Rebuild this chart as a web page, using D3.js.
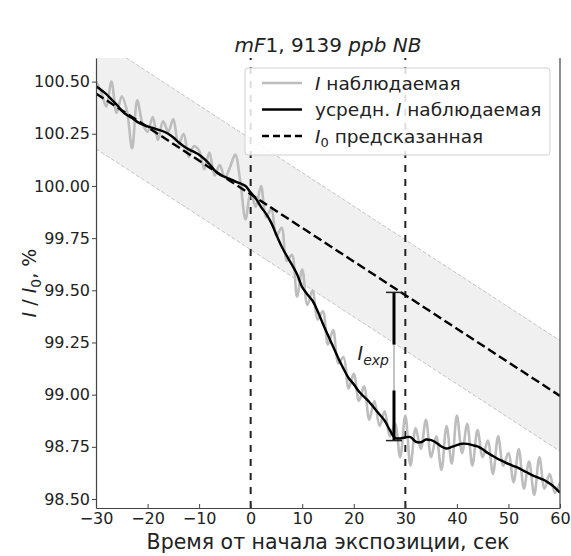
<!DOCTYPE html>
<html>
<head>
<meta charset="utf-8">
<script src="https://cdn.jsdelivr.net/npm/d3@7"></script>
<style>
  body { margin: 0; background: #fff; }
  svg text { font-family: "DejaVu Sans", sans-serif; fill: #222; }
</style>
</head>
<body>
<div id="chart"></div>
<script>
// time axis, seconds
var times = d3.range(-30, 61);

// observed I / I0, % (grey)
var observed = [100.50, 100.45, 100.38, 100.50, 100.35, 100.43, 100.36, 100.18, 100.41, 100.30,
  100.26, 100.33, 100.22, 100.31, 100.26, 100.32, 100.20, 100.25, 100.14, 100.19,
  100.17, 100.08, 100.16, 100.05, 100.10, 100.04, 100.09, 100.15, 100.02, 99.84,
  99.97, 99.90, 100.00, 99.85, 99.89, 99.76, 99.80, 99.64, 99.67, 99.47,
  99.60, 99.43, 99.50, 99.36, 99.40, 99.24, 99.31, 99.15, 99.18, 99.03,
  99.10, 98.97, 99.04, 98.88, 98.97, 98.85, 98.92, 98.80, 98.86, 98.70,
  98.90, 98.66, 98.84, 98.74, 98.88, 98.70, 98.80, 98.64, 98.85, 98.67,
  98.90, 98.72, 98.86, 98.66, 98.83, 98.70, 98.78, 98.62, 98.80, 98.66,
  98.72, 98.58, 98.74, 98.55, 98.68, 98.52, 98.70, 98.55, 98.62, 98.53, 98.58];

// averaged observed (black)
var averaged = [100.478, 100.46, 100.44, 100.415, 100.39, 100.36, 100.34, 100.325, 100.307, 100.295,
  100.285, 100.278, 100.27, 100.262, 100.25, 100.232, 100.21, 100.19, 100.175, 100.163,
  100.15, 100.13, 100.105, 100.075, 100.055, 100.043, 100.033, 100.022, 100.012, 100.00,
  99.968, 99.94, 99.90, 99.866, 99.823, 99.765, 99.71, 99.665, 99.623, 99.577,
  99.515, 99.48, 99.45, 99.40, 99.34, 99.285, 99.23, 99.175, 99.125, 99.08,
  99.05, 99.015, 98.99, 98.965, 98.935, 98.905, 98.875, 98.83, 98.793, 98.79,
  98.795, 98.797, 98.775, 98.772, 98.785, 98.782, 98.77, 98.752, 98.742, 98.75,
  98.758, 98.765, 98.764, 98.758, 98.752, 98.738, 98.72, 98.706, 98.692, 98.68,
  98.668, 98.658, 98.648, 98.635, 98.622, 98.61, 98.60, 98.59, 98.574, 98.555, 98.53];

// predicted I0 line end points and band half width
var predT = [-30, 60];
var predV = [100.443, 98.994];
var bandHalf = 0.265;

// vertical markers and I_exp bar
var markers = [0, 30];
var expT = 27.8;
var expRange = [98.78, 99.49];
var expThick = [[99.24, 99.49], [98.78, 99.02]];

var xTicks = [-30, -20, -10, 0, 10, 20, 30, 40, 50, 60];
var yTicks = [98.50, 98.75, 99.00, 99.25, 99.50, 99.75, 100.00, 100.25, 100.50];

var W = 571, H = 556,
    pLeft = 96, pRight = 560, pTop = 58, pBottom = 508;

var svg = d3.select("#chart").append("svg")
            .attr("width", W).attr("height", H);

var x = d3.scaleLinear().domain([-30, 60]).range([pLeft, pRight]),
    y = d3.scaleLinear().domain([98.457, 100.613]).range([pBottom, pTop]);

svg.append("clipPath").attr("id", "clip")
   .append("rect").attr("x", pLeft).attr("y", pTop)
   .attr("width", pRight - pLeft).attr("height", pBottom - pTop);

var plot = svg.append("g").attr("clip-path", "url(#clip)");

// predicted band
var bandData = predT.map(function(t, i) { return {t: t, v: predV[i]}; });
plot.append("path")
    .attr("d", d3.area()
      .x(function(d) { return x(d.t); })
      .y0(function(d) { return y(d.v - bandHalf); })
      .y1(function(d) { return y(d.v + bandHalf); })(bandData))
    .attr("fill", "#f0f0f0");

[bandHalf, -bandHalf].forEach(function(off) {
  plot.append("path")
      .attr("d", d3.line()
        .x(function(d) { return x(d.t); })
        .y(function(d) { return y(d.v + off); })(bandData))
      .attr("fill", "none")
      .attr("stroke", "#b8b8b8")
      .attr("stroke-width", 0.8)
      .attr("stroke-dasharray", "4,2");
});

// vertical dashed markers
markers.forEach(function(t) {
  plot.append("line")
      .attr("x1", x(t)).attr("x2", x(t))
      .attr("y1", pTop).attr("y2", pBottom)
      .attr("stroke", "#222")
      .attr("stroke-width", 2)
      .attr("stroke-dasharray", "7,7")
      .attr("stroke-dashoffset", -9);
});

var obsData = times.map(function(t, i) { return {t: t, v: observed[i]}; });
var avgData = times.map(function(t, i) { return {t: t, v: averaged[i]}; });

var line = d3.line()
             .curve(d3.curveCatmullRom)
             .x(function(d) { return x(d.t); })
             .y(function(d) { return y(d.v); });

plot.append("path")
    .attr("d", line(obsData))
    .attr("fill", "none")
    .attr("stroke", "#bdbdbd")
    .attr("stroke-width", 2.6);

plot.append("path")
    .attr("d", line(avgData))
    .attr("fill", "none")
    .attr("stroke", "#000")
    .attr("stroke-width", 2.4);

plot.append("path")
    .attr("d", d3.line()
      .x(function(d) { return x(d.t); })
      .y(function(d) { return y(d.v); })(bandData))
    .attr("fill", "none")
    .attr("stroke", "#000")
    .attr("stroke-width", 2.4)
    .attr("stroke-dasharray", "9,4");

// I_exp bar
var ex = x(expT);
plot.append("line")
    .attr("x1", ex).attr("x2", ex)
    .attr("y1", y(expRange[0])).attr("y2", y(expRange[1]))
    .attr("stroke", "#888").attr("stroke-width", 1);
expThick.forEach(function(r) {
  plot.append("line")
      .attr("x1", ex).attr("x2", ex)
      .attr("y1", y(r[0])).attr("y2", y(r[1]))
      .attr("stroke", "#000").attr("stroke-width", 3);
});
expRange.forEach(function(v) {
  plot.append("line")
      .attr("x1", ex - 8).attr("x2", ex + 8)
      .attr("y1", y(v)).attr("y2", y(v))
      .attr("stroke", "#222").attr("stroke-width", 1.5);
});
var lbl = svg.append("text")
    .attr("x", ex - 5).attr("y", y((expRange[0] + expRange[1]) / 2) - 6)
    .attr("text-anchor", "end")
    .style("font-size", "19px");
lbl.append("tspan").style("font-style", "italic").text("I");
lbl.append("tspan").style("font-style", "italic").style("font-size", "14px")
   .attr("dy", 5).text("exp");

// axes
var xAxis = svg.append("g")
   .attr("transform", "translate(0," + pBottom + ")")
   .call(d3.axisBottom(x).tickValues(xTicks).tickSizeInner(-4).tickSizeOuter(0)
           .tickFormat(function(d) { return d < 0 ? "\u2212" + Math.abs(d) : d; }));
xAxis.selectAll("text").attr("dy", 0).attr("y", 16).style("font-size", "16px");

var yAxis = svg.append("g")
   .attr("transform", "translate(" + pLeft + ",0)")
   .call(d3.axisLeft(y).tickValues(yTicks).tickSizeInner(4).tickSizeOuter(0)
           .tickFormat(d3.format(".2f")));
yAxis.selectAll("text").attr("x", -6).style("font-size", "16px");

[xAxis, yAxis].forEach(function(a) {
  a.select(".domain").attr("stroke", "#444").attr("stroke-width", 1.2);
  a.selectAll(".tick line").attr("stroke", "#444");
});

svg.append("line")
   .attr("x1", pRight).attr("x2", pRight).attr("y1", pTop).attr("y2", pBottom)
   .attr("stroke", "#444").attr("stroke-width", 1.2);

// legend
var lg = svg.append("g");
lg.append("rect")
  .attr("x", 245).attr("y", 68).attr("width", 305).attr("height", 87)
  .attr("rx", 3)
  .attr("fill", "#fff").attr("fill-opacity", 0.85)
  .attr("stroke", "#d0d0d0");

var legendRows = [
  {stroke: "#bdbdbd", dash: null},
  {stroke: "#000", dash: null},
  {stroke: "#000", dash: "7,4"}
];
legendRows.forEach(function(r, i) {
  var yy = 83 + i * 26.5;
  lg.append("line")
    .attr("x1", 262).attr("x2", 302).attr("y1", yy).attr("y2", yy)
    .attr("stroke", r.stroke).attr("stroke-width", 2.4)
    .attr("stroke-dasharray", r.dash);
});

var t1 = lg.append("text").attr("x", 315).attr("y", 89.5).style("font-size", "18.5px");
t1.append("tspan").style("font-style", "italic").text("I");
t1.append("tspan").text(" наблюдаемая");

var t2 = lg.append("text").attr("x", 315).attr("y", 116).style("font-size", "18.5px");
t2.append("tspan").text("усредн. ");
t2.append("tspan").style("font-style", "italic").text("I");
t2.append("tspan").text(" наблюдаемая");

var t3 = lg.append("text").attr("x", 315).attr("y", 142.5).style("font-size", "18.5px");
t3.append("tspan").style("font-style", "italic").text("I");
t3.append("tspan").style("font-size", "13px").attr("dy", 4).text("0");
t3.append("tspan").attr("dy", -4).text(" предсказанная");

// title
var title = svg.append("text")
   .attr("x", (pLeft + pRight) / 2).attr("y", 52)
   .attr("text-anchor", "middle").style("font-size", "20px");
title.append("tspan").style("font-style", "italic").text("mF");
title.append("tspan").text("1, 9139 ");
title.append("tspan").style("font-style", "italic").text("ppb NB");

// axis labels
svg.append("text")
   .attr("x", (pLeft + pRight) / 2).attr("y", 549)
   .attr("text-anchor", "middle").style("font-size", "20.5px")
   .text("Время от начала экспозиции, сек");

var yl = svg.append("text")
   .attr("transform", "translate(36," + ((pTop + pBottom) / 2) + ") rotate(-90)")
   .attr("text-anchor", "middle").style("font-size", "19px");
yl.append("tspan").style("font-style", "italic").text("I");
yl.append("tspan").text(" / ");
yl.append("tspan").style("font-style", "italic").text("I");
yl.append("tspan").style("font-size", "14px").attr("dy", 5).text("0");
yl.append("tspan").attr("dy", -5).text(", %");
</script>
</body>
</html>
